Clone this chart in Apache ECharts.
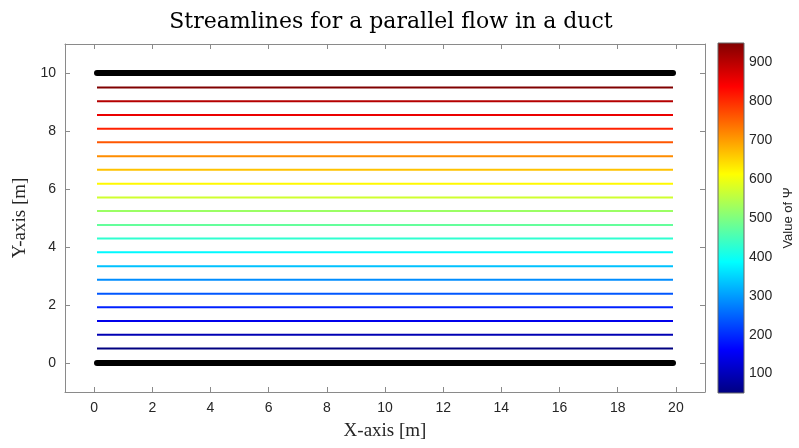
<!DOCTYPE html>
<html>
<head>
<meta charset="utf-8">
<script src="https://cdn.jsdelivr.net/npm/echarts@6/dist/echarts.min.js"></script>
<style>html,body{margin:0;padding:0;background:#fff;}#c{width:799px;height:448px;}</style>
</head>
<body>
<div id="c"></div>
<script>
// ---- data ----
const streamY   = [0.50, 0.97, 1.45, 1.92, 2.39, 2.87, 3.34, 3.82, 4.29, 4.76, 5.24, 5.71, 6.18, 6.66, 7.13, 7.61, 8.08, 8.55, 9.03, 9.50];
const streamPsi = [50, 97, 145, 192, 239, 287, 334, 382, 429, 476, 524, 571, 618, 666, 713, 761, 808, 855, 903, 950];
const lineX     = [0.1, 19.9];
const wallY     = [0, 10];
const xTicks    = [0, 2, 4, 6, 8, 10, 12, 14, 16, 18, 20];
const yTicks    = [0, 2, 4, 6, 8, 10];
const cbarTicks = [100, 200, 300, 400, 500, 600, 700, 800, 900];
const psiRange  = [50, 950];

function clamp(v){ return Math.max(0, Math.min(1, v)); }
function jet(t){
  const r = clamp(1.5 - Math.abs(4*t - 3));
  const g = clamp(1.5 - Math.abs(4*t - 2));
  const b = clamp(1.5 - Math.abs(4*t - 1));
  return 'rgb(' + Math.round(r*255) + ',' + Math.round(g*255) + ',' + Math.round(b*255) + ')';
}
const jetStops = [0, 0.125, 0.375, 0.625, 0.875, 1].map(t => ({offset: t, color: jet(t)}));

const axisColor = '#8a8a8a';
const labelColor = '#262626';
const sans = 'Liberation Sans, Arial, sans-serif';
const serif = 'Liberation Serif, DejaVu Serif, serif';
const titleSerif = 'DejaVu Serif, Liberation Serif, serif';

const series = [];
streamY.forEach((y, i) => {
  const t = (streamPsi[i] - psiRange[0]) / (psiRange[1] - psiRange[0]);
  series.push({
    type: 'line', xAxisIndex: 0, yAxisIndex: 0, silent: true, symbol: 'none',
    data: [[lineX[0], y], [lineX[1], y]],
    lineStyle: {color: jet(t), width: 2}, z: 3
  });
});
wallY.forEach(y => {
  series.push({
    type: 'line', xAxisIndex: 0, yAxisIndex: 0, silent: true, symbol: 'none',
    data: [[lineX[0], y], [lineX[1], y]],
    lineStyle: {color: '#000', width: 6, cap: 'round'}, z: 4
  });
});
series.push({
  type: 'custom', xAxisIndex: 2, yAxisIndex: 2, silent: true,
  data: [[0, psiRange[0], 1, psiRange[1]]],
  renderItem: function(params, api){
    const p0 = api.coord([api.value(0), api.value(1)]);
    const p1 = api.coord([api.value(2), api.value(3)]);
    return {
      type: 'rect',
      shape: {x: p0[0], y: p1[1], width: p1[0]-p0[0], height: p0[1]-p1[1]},
      style: {
        fill: {type: 'linear', x: 0, y: 1, x2: 0, y2: 0, colorStops: jetStops},
        stroke: '#666', lineWidth: 1
      }
    };
  }
});

const chart = echarts.init(document.getElementById('c'), null, {renderer: 'canvas'});
chart.setOption({
  animation: false,
  backgroundColor: '#fff',
  title: {
    text: 'Streamlines for a parallel flow in a duct',
    left: 386, top: 6, textAlign: 'center',
    textStyle: {fontFamily: titleSerif, fontSize: 22, fontWeight: 'normal', color: '#000'}
  },
  grid: [
    {left: 65, right: 94, top: 44, bottom: 56},
    {left: 718, width: 26, top: 43, height: 350}
  ],
  xAxis: [
    {type: 'value', gridIndex: 0, min: -1, max: 21, position: 'bottom',
     name: 'X-axis [m]', nameLocation: 'middle', nameGap: 30,
     nameTextStyle: {fontFamily: serif, fontSize: 19, color: labelColor},
     axisLine: {show: true, onZero: false, lineStyle: {color: axisColor}},
     axisTick: {show: true, inside: true, length: 5, customValues: xTicks, lineStyle: {color: axisColor}},
     axisLabel: {customValues: xTicks, fontFamily: sans, fontSize: 14, color: labelColor, margin: 9},
     splitLine: {show: false}},
    {type: 'value', gridIndex: 0, min: -1, max: 21, position: 'top',
     axisLine: {show: true, onZero: false, lineStyle: {color: axisColor}},
     axisTick: {show: true, inside: true, length: 5, customValues: xTicks, lineStyle: {color: axisColor}},
     axisLabel: {show: false}, splitLine: {show: false}},
    {type: 'value', gridIndex: 1, min: 0, max: 1, show: false}
  ],
  yAxis: [
    {type: 'value', gridIndex: 0, min: -1, max: 11, position: 'left',
     name: 'Y-axis [m]', nameLocation: 'middle', nameGap: 24, nameRotate: 90,
     nameTextStyle: {fontFamily: serif, fontSize: 19, color: labelColor},
     axisLine: {show: true, onZero: false, lineStyle: {color: axisColor}},
     axisTick: {show: true, inside: true, length: 5, customValues: yTicks, lineStyle: {color: axisColor}},
     axisLabel: {customValues: yTicks, fontFamily: sans, fontSize: 14, color: labelColor, margin: 9},
     splitLine: {show: false}},
    {type: 'value', gridIndex: 0, min: -1, max: 11, position: 'right',
     axisLine: {show: true, onZero: false, lineStyle: {color: axisColor}},
     axisTick: {show: true, inside: true, length: 5, customValues: yTicks, lineStyle: {color: axisColor}},
     axisLabel: {show: false}, splitLine: {show: false}},
    {type: 'value', gridIndex: 1, min: psiRange[0], max: psiRange[1], position: 'right',
     name: 'Value of Ψ', nameLocation: 'middle', nameGap: 38, nameRotate: 90,
     nameTextStyle: {fontFamily: sans, fontSize: 13, color: labelColor},
     axisLine: {show: false},
     axisTick: {show: false},
     axisLabel: {customValues: cbarTicks, fontFamily: sans, fontSize: 14, color: labelColor, margin: 5},
     splitLine: {show: false}}
  ],
  series: series
});
</script>
</body>
</html>
